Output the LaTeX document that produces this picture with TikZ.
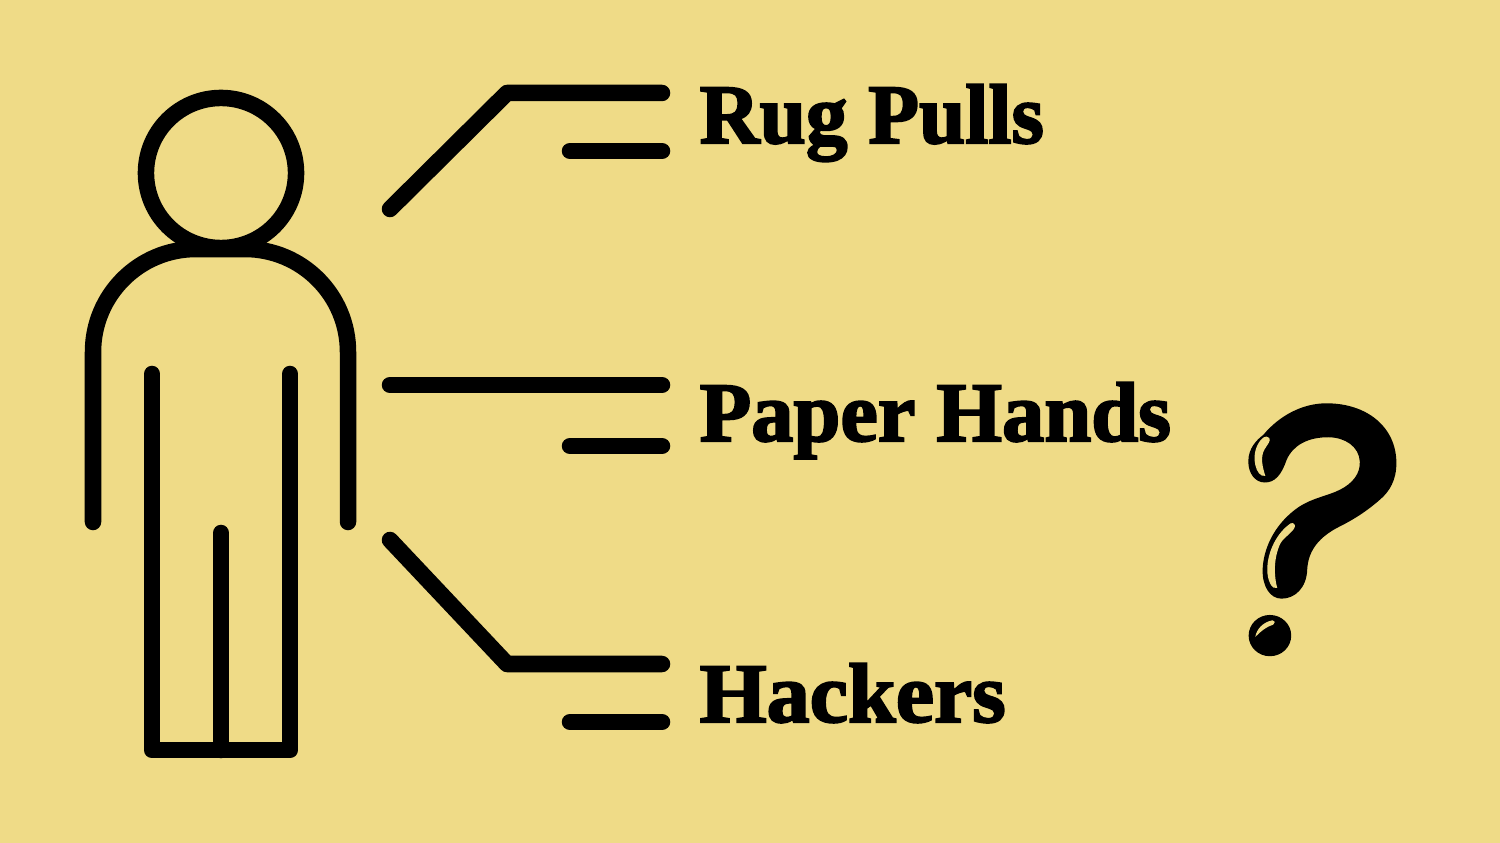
\documentclass[tikz,border=0pt]{standalone}
\usepackage{fontspec}
\setmainfont{Liberation Serif}
\definecolor{sand}{HTML}{EFDB87}
\newcommand{\heavy}{\fontsize{24}{28}\bfseries\addfontfeature{FakeBold=2.4}}
\tikzset{
    figure/.style={line width=0.165cm,line cap=round,line join=round},
    lead/.style={figure},
    label/.style={anchor=base west,inner sep=0pt,font=\heavy}
}
\begin{document}
\begin{tikzpicture}[x=0.01cm,y=-0.01cm]
    \useasboundingbox (0,0) rectangle (1500,843);
    \fill[sand] (0,0) rectangle (1500,843);
    \node[figure,draw,circle,minimum size=1.5cm,inner sep=0pt] (head) at (221,173) {};
    \draw[figure] (93,522) -- (93,352) arc[start angle=180,end angle=270,radius=103] -- (245,249) arc[start angle=270,end angle=360,radius=103] -- (348,522);
    \draw[figure] (152,374) -- (152,750) -- (290,750) -- (290,374);
    \draw[figure] (221,533) -- (221,750);
    \node[label] (rug) at (699,143) {\scalebox{0.985}[1]{Rug Pulls}};
    \node[label] (paper) at (699,441) {Paper Hands};
    \node[label] (hackers) at (699,722) {\scalebox{1.02}[1]{Hackers}};
    \draw[lead] (390,209) -- (507,93) -- (662,93);
    \draw[lead] (570,151) -- (662,151);
    \draw[lead] (390,385) -- (662,385);
    \draw[lead] (570,446) -- (662,446);
    \draw[lead] (390,540) -- (507,664) -- (662,664);
    \draw[lead] (570,722) -- (662,722);
    \begin{scope}[shift={(1220,380)},x=0.00333cm,y=-0.00333cm]
        \fill (85,245) .. controls (85,205) and (110,180) .. (130,165)
            .. controls (180,105) and (250,70) .. (320,70)
            .. controls (440,70) and (530,140) .. (530,250)
            .. controls (530,300) and (510,335) .. (480,360)
            .. controls (440,395) and (400,420) .. (360,440)
            .. controls (300,470) and (265,510) .. (262,570)
            .. controls (260,625) and (225,657) .. (185,657)
            .. controls (150,657) and (127,620) .. (128,570)
            .. controls (130,510) and (160,440) .. (225,390)
            .. controls (270,355) and (320,350) .. (360,330)
            .. controls (400,310) and (422,280) .. (420,245)
            .. controls (418,200) and (375,172) .. (325,172)
            .. controls (265,172) and (220,195) .. (200,240)
            .. controls (185,285) and (165,308) .. (135,308)
            .. controls (105,308) and (85,280) .. (85,245) -- cycle;
        \fill (150,768) ellipse[x radius=64,y radius=62];
        \fill[sand] (132,172) .. controls (112,185) and (98,220) .. (106,255)
            .. controls (110,275) and (122,292) .. (136,288)
            .. controls (128,262) and (120,232) .. (134,208)
            .. controls (142,195) and (154,182) .. (148,174)
            .. controls (144,169) and (136,169) .. (132,172) -- cycle;
        \fill[sand] (212,431) .. controls (172,458) and (142,515) .. (142,570)
            .. controls (142,600) and (155,632) .. (172,625)
            .. controls (162,590) and (160,535) .. (182,490)
            .. controls (194,470) and (228,452) .. (225,436)
            .. controls (223,429) and (216,428) .. (212,431) -- cycle;
        \fill[sand] (158,722) .. controls (130,727) and (110,748) .. (106,772)
            .. controls (122,755) and (140,741) .. (160,735)
            .. controls (167,731) and (166,722) .. (158,722) -- cycle;
    \end{scope}
\end{tikzpicture}
\end{document}
